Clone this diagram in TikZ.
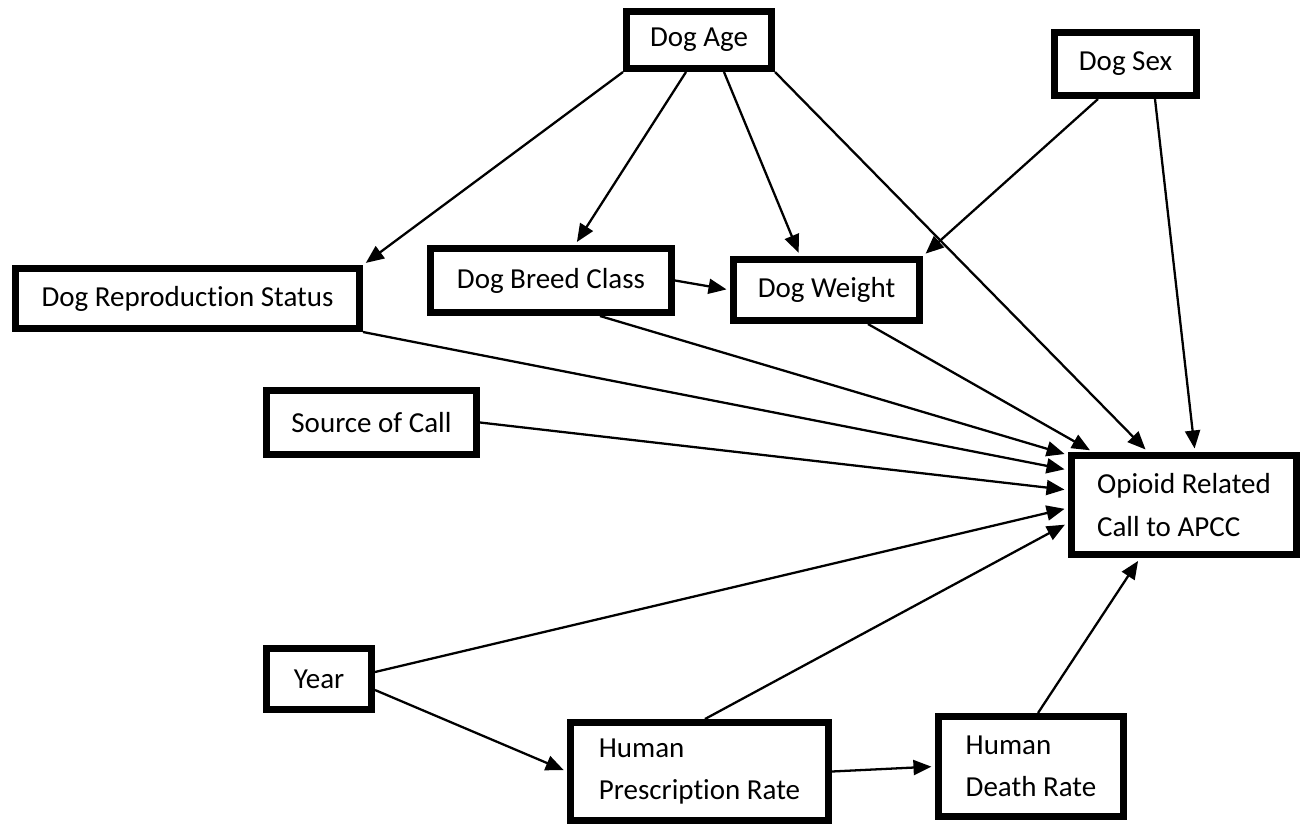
\documentclass[tikz,border=0pt]{standalone}
\usepackage{fontspec}
\setmainfont{Carlito}[Ligatures=NoCommon]
\usetikzlibrary{arrows.meta,positioning}

\begin{document}
\begin{tikzpicture}[>={Triangle[length=0.36cm,width=0.3cm]},
  box/.style={draw,line width=4pt,inner sep=0pt,font=\fontsize{16.5}{24}\selectfont},
  link/.style={->,line width=1.3pt,shorten >=2pt}]
\useasboundingbox (0,0) rectangle (26.06,-16.48);
% variables
\node[box,minimum width=2.90cm,minimum height=1.14cm] (age) at (13.98,-0.80){Dog Age};
\node[box,minimum width=2.84cm,minimum height=1.26cm] (sex) at (22.51,-1.28){Dog Sex};
\node[box,minimum width=6.88cm,minimum height=1.20cm] (repro) at (3.75,-5.97){Dog Reproduction Status};
\node[box,minimum width=4.82cm,minimum height=1.28cm] (breed) at (11.02,-5.61){Dog Breed Class};
\node[box,minimum width=3.72cm,minimum height=1.22cm] (weight) at (16.53,-5.80){Dog Weight};
\node[box,minimum width=4.20cm,minimum height=1.28cm] (source) at (7.43,-8.45){Source of Call};
\node[box,minimum width=4.50cm,minimum height=1.98cm,align=left] (op) at (23.68,-10.10){Opioid Related\\Call to APCC};
\node[box,minimum width=2.10cm,minimum height=1.22cm] (year) at (6.38,-13.58){Year};
\node[box,minimum width=5.16cm,minimum height=1.96cm,align=left] (hpr) at (13.99,-15.43){Human\\Prescription Rate};
\node[box,minimum width=3.70cm,minimum height=2.00cm,align=left] (hdr) at (20.62,-15.33){Human\\Death Rate};
% arrows
\draw[link] (age.south west) -- (repro.north east);
\draw[link] ([xshift=-0.26cm]age.south) -- ([xshift=0.48cm]breed.north);
\draw[link] ([xshift=0.5cm]age.south) -- ([xshift=-0.53cm]weight.north);
\draw[link] (age.south east) -- ([xshift=-0.72cm]op.north);
\draw[link] ([xshift=-0.55cm]sex.south) -- (weight.north east);
\draw[link] ([xshift=0.59cm]sex.south) -- ([xshift=0.22cm]op.north);
\draw[link] (breed.east) -- (weight.west);
\draw[link] ([xshift=0.98cm]breed.south) -- ([yshift=1.0cm]op.west);
\draw[link] (repro.south east) -- ([yshift=0.7cm]op.west);
\draw[link] ([xshift=0.83cm]weight.south) -- ([xshift=0.5cm]op.north west);
\draw[link] (source.east) -- ([yshift=0.3cm]op.west);
\draw[link] ([yshift=0.14cm]year.east) -- ([yshift=-0.06cm]op.west);
\draw[link] ([yshift=-0.22cm]year.east) -- (hpr.west);
\draw[link] ([xshift=0.11cm]hpr.north) -- ([yshift=-0.36cm]op.west);
\draw[link] (hpr.east) -- (hdr.west);
\draw[link] ([xshift=0.14cm]hdr.north) -- ([xshift=-0.88cm]op.south);
\end{tikzpicture}
\end{document}
